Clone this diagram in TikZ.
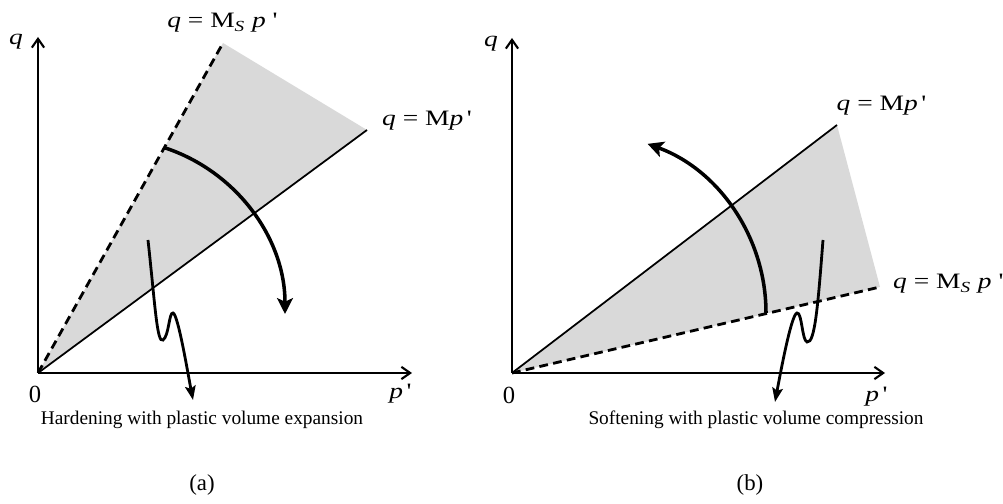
\documentclass[tikz,border=0pt]{standalone}
\usepackage{fontspec}
\setmainfont{Liberation Serif}
\newfontfamily\eqfont[FakeStretch=1.25]{Liberation Serif}
\usetikzlibrary{arrows.meta}

\begin{document}
\begin{tikzpicture}[
  axis/.style={line width=1.2pt, -{Straight Barb[length=5pt,width=7pt]}},
  csl/.style={line width=1pt},
  ssl/.style={line width=1.6pt, dash pattern=on 5pt off 3pt},
  zone/.style={fill=black!15, draw=none},
  loadpath/.style={line width=2pt, -{Stealth[length=9pt,width=9pt,inset=2pt]}},
  wiggle/.style={line width=1.6pt, -{Stealth[length=8pt,width=6pt,inset=1.5pt]}},
  eqlbl/.style={font=\fontsize{12.5}{14}\eqfont},
  caption/.style={font=\fontsize{11}{13}\selectfont}
]
  \useasboundingbox (0,0) rectangle (20.06,10.08);

  % (a) hardening with plastic volume expansion
  \coordinate (O1) at (0.76,2.62);
  \coordinate (q1) at (0.76,9.34);
  \coordinate (p1) at (8.24,2.62);
  \coordinate (Ms1) at (4.46,9.22);
  \coordinate (M1) at (7.34,7.48);
  \coordinate (C1) at (2.20,3.80);
  \fill[zone] (O1) -- (Ms1) -- (M1) -- cycle;
  \draw[csl] (O1) -- (M1);
  \draw[ssl] (O1) -- (Ms1);
  \draw[axis] (O1) -- (q1);
  \draw[axis] (O1) -- (p1);
  \draw[loadpath] ([shift={(72:3.5)}]C1) arc[start angle=72, end angle=0, radius=3.5];
  \draw[wiggle] (2.96,5.28) .. controls (3.10,4.00) and (3.14,3.20) .. (3.26,3.28)
       .. controls (3.38,3.36) and (3.38,3.84) .. (3.46,3.82)
       .. controls (3.56,3.80) and (3.76,2.60) .. (3.86,2.08);
  \node[eqlbl] (qa) at (0.32,9.24) {\itshape q};
  \node[eqlbl] (pa) at (8.00,2.20) {{\itshape p}\,\textquotesingle};
  \node[font=\fontsize{14}{16}\selectfont] (za) at (0.70,2.20) {0};
  \node[eqlbl] (msa) at (4.44,9.62) {{\itshape q} = M\textsubscript{\itshape S} {\itshape p} \textquotesingle};
  \node[eqlbl, anchor=west] (ma) at (7.52,7.66) {{\itshape q} = M{\itshape p}\,\textquotesingle};
  \node[caption, anchor=base] (capa) at (4.04,1.58) {Hardening with plastic volume expansion};
  \node[caption, font=\fontsize{13}{15}\selectfont] (taga) at (4.04,0.38) {(a)};

  % (b) softening with plastic volume compression
  \coordinate (O2) at (10.24,2.62);
  \coordinate (q2) at (10.24,9.32);
  \coordinate (p2) at (17.70,2.62);
  \coordinate (M2) at (16.74,7.58);
  \coordinate (Ms2) at (17.60,4.34);
  \coordinate (C2) at (11.72,3.82);
  \fill[zone] (O2) -- (M2) -- (Ms2) -- cycle;
  \draw[csl] (O2) -- (M2);
  \draw[ssl] (O2) -- (Ms2);
  \draw[axis] (O2) -- (q2);
  \draw[axis] (O2) -- (p2);
  \draw[loadpath] ([shift={(0:3.6)}]C2) arc[start angle=0, end angle=70, radius=3.6];
  \draw[wiggle] (16.46,5.28) .. controls (16.36,4.00) and (16.30,3.20) .. (16.14,3.24)
       .. controls (16.04,3.27) and (16.04,3.84) .. (15.94,3.82)
       .. controls (15.84,3.80) and (15.66,2.90) .. (15.50,2.04);
  \node[eqlbl] (qb) at (9.82,9.20) {\itshape q};
  \node[eqlbl] (pb) at (17.52,2.14) {{\itshape p}\,\textquotesingle};
  \node[font=\fontsize{14}{16}\selectfont] (zb) at (10.18,2.18) {0};
  \node[eqlbl] (mb) at (17.62,7.96) {{\itshape q} = M{\itshape p}\,\textquotesingle};
  \node[eqlbl, anchor=west] (msb) at (17.74,4.40) {{\itshape q} = M\textsubscript{\itshape S} {\itshape p} \textquotesingle};
  \node[caption, anchor=base] (capb) at (15.12,1.58) {Softening with plastic volume compression};
  \node[caption, font=\fontsize{13}{15}\selectfont] (tagb) at (15.00,0.38) {(b)};
\end{tikzpicture}
\end{document}
